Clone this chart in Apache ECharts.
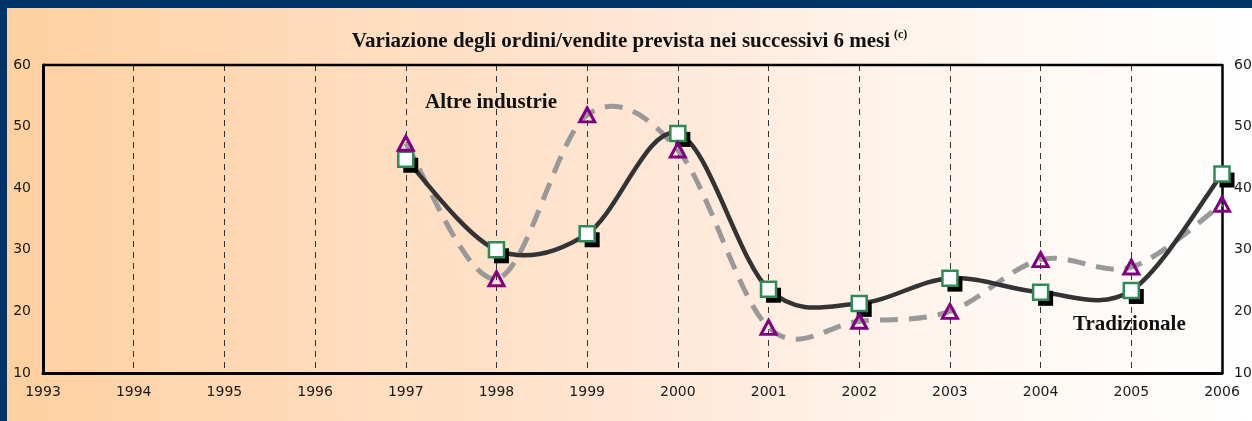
<!DOCTYPE html>
<html>
<head>
<meta charset="utf-8">
<script src="https://cdn.jsdelivr.net/npm/echarts@6/dist/echarts.min.js"></script>
<style>
  html, body { margin: 0; padding: 0; background: #003366; }
  #wrap { position: absolute; left: 7px; top: 8px; width: 1245px; height: 413px; }
  #chart { width: 100%; height: 100%; }
</style>
</head>
<body>
<div id="wrap"><div id="chart"></div></div>
<script>
// Dati
const years = [1997, 1998, 1999, 2000, 2001, 2002, 2003, 2004, 2005, 2006];
const tradizionale = [44.7, 30.0, 32.6, 48.9, 23.6, 21.3, 25.4, 23.1, 23.4, 42.3];
const altreIndustrie = [47.3, 25.3, 51.9, 46.2, 17.4, 18.4, 20.0, 28.4, 27.2, 37.4];
const yearMin = 1993, yearMax = 2006;
const valMin = 10, valMax = 60, valStep = 10;

const chart = echarts.init(document.getElementById('chart'));

const pair = (xs, ys) => xs.map((x, i) => [x, ys[i]]);
const labelFont = { color: '#1a1a1a', fontFamily: 'DejaVu Sans', fontSize: 14 };

// curva levigata stile Excel (bezier con tangenti 1/6) calcolata sulle coordinate dell'asse
function smoothPath(xs, ys, api) {
  const p = xs.map((x, i) => api.coord([x, ys[i]]));
  let d = 'M' + p[0][0] + ' ' + p[0][1];
  for (let i = 0; i < p.length - 1; i++) {
    const p0 = p[i - 1] || p[i], p1 = p[i], p2 = p[i + 1], p3 = p[i + 2] || p[i + 1];
    const c1x = p1[0] + (p2[0] - p0[0]) / 6, c1y = p1[1] + (p2[1] - p0[1]) / 6;
    const c2x = p2[0] - (p3[0] - p1[0]) / 6, c2y = p2[1] - (p3[1] - p1[1]) / 6;
    d += ' C' + c1x + ' ' + c1y + ' ' + c2x + ' ' + c2y + ' ' + p2[0] + ' ' + p2[1];
  }
  return d;
}

function curveSeries(ys, style, z) {
  return {
    type: 'custom',
    data: [[years[0], ys[0]]],
    silent: true,
    z: z,
    renderItem: (params, api) => ({
      type: 'path',
      shape: { pathData: smoothPath(years, ys, api) },
      style: Object.assign({ fill: null }, style)
    })
  };
}

const option = {
  animation: false,
  backgroundColor: new echarts.graphic.LinearGradient(0, 0, 1, 0, [
    { offset: 0, color: '#FFD0A0' },
    { offset: 0.5, color: '#FFE6D4' },
    { offset: 0.72, color: '#FFF4EC' },
    { offset: 1, color: '#FFFFFF' }
  ]),
  title: {
    text: 'Variazione degli ordini/vendite prevista nei successivi 6 mesi{sup|(c)}',
    left: 'center',
    top: 16,
    textStyle: {
      fontFamily: 'Liberation Serif',
      fontWeight: 'bold',
      fontSize: 21,
      color: '#111',
      rich: {
        sup: { fontFamily: 'Liberation Serif', fontSize: 12, color: '#111', padding: [0, 0, 14, 4] }
      }
    }
  },
  grid: { left: 36, right: 30, top: 57, bottom: 48, show: false, outerBoundsMode: 'none', containLabel: false },
  xAxis: {
    type: 'value',
    min: yearMin,
    max: yearMax,
    interval: 1,
    axisLine: { show: true, onZero: false, lineStyle: { color: '#000', width: 3 } },
    axisTick: { show: false },
    axisLabel: Object.assign({ margin: 12, formatter: v => String(v) }, labelFont),
    splitLine: { show: true, lineStyle: { color: '#333', width: 1, type: [6, 5] } }
  },
  yAxis: [{
    type: 'value',
    min: valMin,
    max: valMax,
    interval: valStep,
    axisLine: { show: true, onZero: false, lineStyle: { color: '#000', width: 3 } },
    axisTick: { show: false },
    axisLabel: Object.assign({ margin: 12 }, labelFont),
    splitLine: { show: false }
  }, {
    type: 'value',
    position: 'right',
    min: valMin,
    max: valMax,
    interval: valStep,
    axisLine: { show: true, lineStyle: { color: '#000', width: 2.5 } },
    axisTick: { show: false },
    axisLabel: Object.assign({ margin: 12 }, labelFont),
    splitLine: { show: false }
  }],
  graphic: [
    // bordo superiore del riquadro
    { type: 'line', shape: { x1: 36, y1: 57, x2: 1215, y2: 57 }, style: { stroke: '#000', lineWidth: 2.5 }, z: 10 },
    { type: 'text', left: 418, top: 84, style: { text: 'Altre industrie', fontFamily: 'Liberation Serif', fontWeight: 'bold', fontSize: 21, fill: '#111' }, z: 10 },
    { type: 'text', left: 1066, top: 306, style: { text: 'Tradizionale', fontFamily: 'Liberation Serif', fontWeight: 'bold', fontSize: 21, fill: '#111' }, z: 10 }
  ],
  series: [
    curveSeries(altreIndustrie, { stroke: '#999', lineWidth: 5, lineDash: [18, 11] }, 2),
    curveSeries(tradizionale, { stroke: '#333', lineWidth: 4.5 }, 3),
    {
      // ombra dei marcatori quadrati
      name: 'Tradizionale ombra',
      type: 'line',
      data: pair(years, tradizionale),
      symbol: 'rect',
      symbolSize: 15,
      symbolOffset: [5, 6],
      lineStyle: { width: 0, opacity: 0 },
      itemStyle: { color: '#000', borderWidth: 0 },
      z: 4
    }, {
      name: 'Tradizionale',
      type: 'line',
      data: pair(years, tradizionale),
      symbol: 'rect',
      symbolSize: 15,
      lineStyle: { width: 0, opacity: 0 },
      itemStyle: { color: '#fff', borderColor: '#2E8B57', borderWidth: 2.5 },
      z: 5
    }, {
      name: 'Altre industrie',
      type: 'line',
      data: pair(years, altreIndustrie),
      symbol: 'triangle',
      symbolSize: [15, 14],
      lineStyle: { width: 0, opacity: 0 },
      itemStyle: { color: 'rgba(0,0,0,0)', borderColor: '#800080', borderWidth: 3 },
      z: 6
    }
  ]
};
chart.setOption(option);
</script>
</body>
</html>
